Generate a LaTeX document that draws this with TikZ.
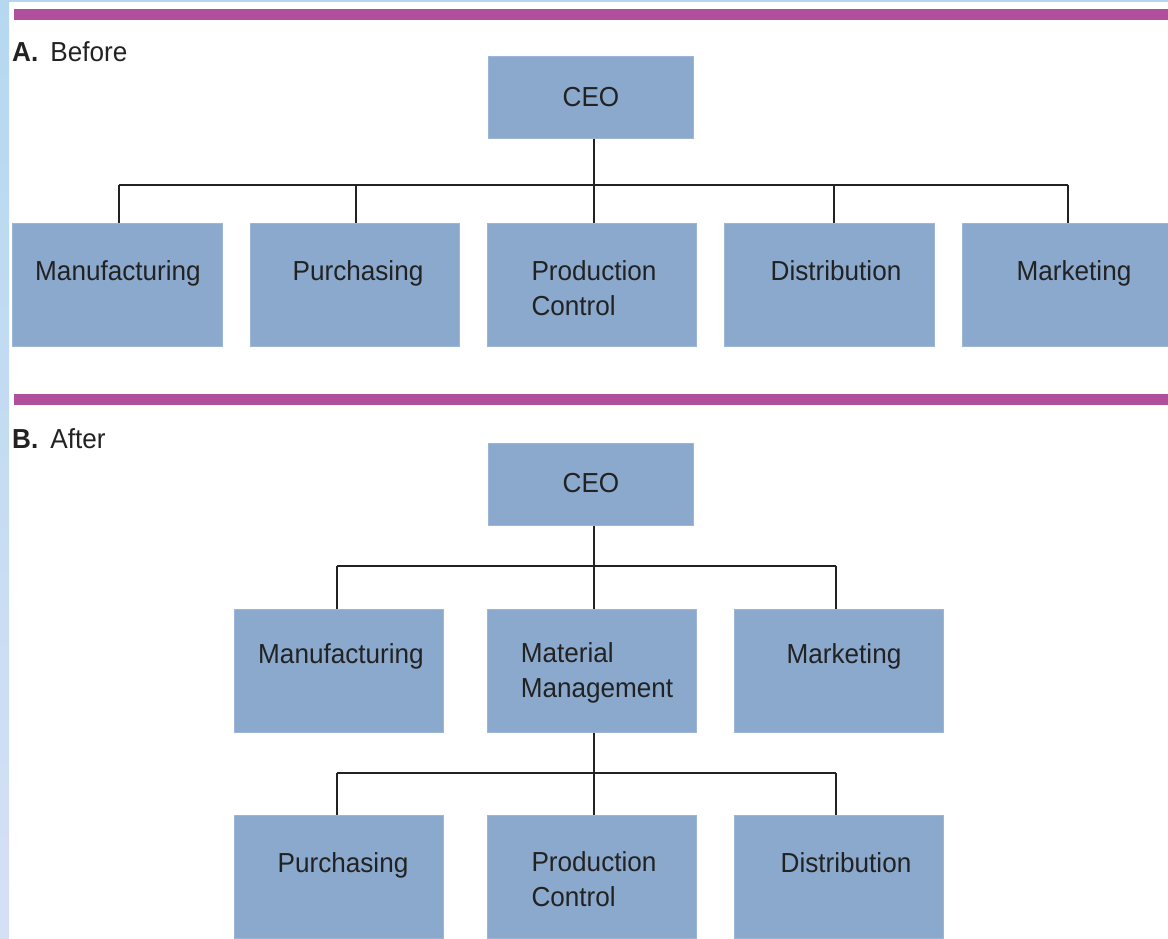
\documentclass[tikz,border=0pt]{standalone}
\usepackage{fontspec}
\setmainfont{Liberation Sans}[FakeStretch=0.95]
\definecolor{boxfill}{HTML}{8AA9CD}
\definecolor{boxedge}{HTML}{9CB6D7}
\definecolor{barpurple}{HTML}{B04F9C}
\definecolor{stripA}{HTML}{B5D8F0}
\definecolor{stripB}{HTML}{D5E0F5}
\definecolor{txt}{HTML}{222222}
\begin{document}
\begin{tikzpicture}[x=1pt,y=-1pt,
  orgbox/.style={draw=boxedge,line width=0.8pt,fill=boxfill,inner sep=0pt,minimum width=209pt,minimum height=123pt,anchor=north west},
  ceobox/.style={draw=boxedge,line width=0.8pt,fill=boxfill,inner sep=0pt,minimum width=205pt,minimum height=82pt,anchor=north west},
  lbl/.style={inner sep=0pt,anchor=base,align=left,text=txt,font=\fontsize{27.5}{34.5}\selectfont},
  head/.style={inner sep=0pt,anchor=base west,text=txt,font=\fontsize{27.5}{34}\selectfont},
  conn/.style={draw=txt,line width=1.2pt}]
\useasboundingbox (0,0) rectangle (1168,939);
\fill[white] (0,0) rectangle (1168,939);
% decorations
\shade[top color=stripA,bottom color=stripB] (0,0) rectangle (9,939);
\fill[stripA] (0,0) rectangle (1168,2);
\fill[barpurple] (14,9) rectangle (1168,20);
\fill[barpurple] (14,394) rectangle (1168,405);
\node[head] (hA) at (12,62) {\textbf{A.}\hspace{12pt}Before};
\node[head] (hB) at (12,448) {\textbf{B.}\hspace{12pt}After};
% ---------- A ----------
\node[ceobox] (ceoA) at (488,56) {};
\node[lbl] (ceoAt) at (591,107) {CEO};
\node[orgbox,minimum width=210pt] (a1) at (12,223) {};
\node[orgbox] (a2) at (250,223) {};
\node[orgbox] (a3) at (487,223) {};
\node[orgbox,minimum width=210pt] (a4) at (724,223) {};
\node[orgbox,minimum width=210pt] (a5) at (962,223) {};
\node[lbl] (a1t) at (118,280) {Manufacturing};
\node[lbl] (a2t) at (358,280) {Purchasing};
\node[lbl] (a3t) at (594,315) {Production\\Control};
\node[lbl] (a4t) at (836,280) {Distribution};
\node[lbl] (a5t) at (1074,280) {Marketing};
\coordinate (jA) at (594,185);
\coordinate (jA1) at (119,185);
\coordinate (jA2) at (356,185);
\coordinate (jA4) at (834,185);
\coordinate (jA5) at (1068,185);
\draw[conn] (ceoA.south -| jA) -- (a3.north -| jA);
\draw[conn] (jA1) -- (jA5);
\draw[conn] (jA1) -- (a1.north -| jA1);
\draw[conn] (jA2) -- (a2.north -| jA2);
\draw[conn] (jA4) -- (a4.north -| jA4);
\draw[conn] (jA5) -- (a5.north -| jA5);
% ---------- B ----------
\node[ceobox] (ceoB) at (488,443) {};
\node[lbl] (ceoBt) at (591,492) {CEO};
\node[orgbox] (b1) at (234,609) {};
\node[orgbox] (b2) at (487,609) {};
\node[orgbox] (b3) at (734,609) {};
\node[lbl] (b1t) at (341,663) {Manufacturing};
\node[lbl] (b2t) at (597,697) {Material\\Management};
\node[lbl] (b3t) at (844,663) {Marketing};
\coordinate (jB) at (594,566);
\coordinate (jB1) at (337,566);
\coordinate (jB3) at (836,566);
\draw[conn] (ceoB.south -| jB) -- (b2.north -| jB);
\draw[conn] (jB1) -- (jB3);
\draw[conn] (jB1) -- (b1.north -| jB1);
\draw[conn] (jB3) -- (b3.north -| jB3);
\node[orgbox] (c1) at (234,815) {};
\node[orgbox] (c2) at (487,815) {};
\node[orgbox] (c3) at (734,815) {};
\node[lbl] (c1t) at (343,872) {Purchasing};
\node[lbl] (c2t) at (594,906) {Production\\Control};
\node[lbl] (c3t) at (846,872) {Distribution};
\coordinate (jC) at (594,773);
\coordinate (jC1) at (337,773);
\coordinate (jC3) at (836,773);
\draw[conn] (b2.south -| jC) -- (c2.north -| jC);
\draw[conn] (jC1) -- (jC3);
\draw[conn] (jC1) -- (c1.north -| jC1);
\draw[conn] (jC3) -- (c3.north -| jC3);
\end{tikzpicture}
\end{document}
